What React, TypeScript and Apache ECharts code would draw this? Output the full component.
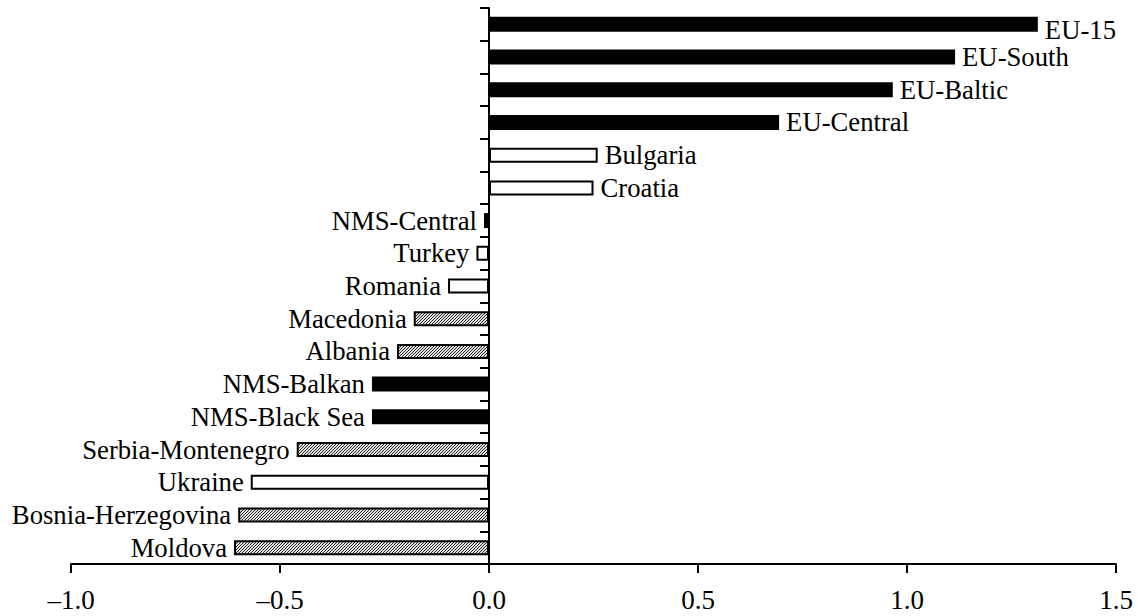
import React, { useEffect, useRef } from "react";
import * as echarts from "echarts";

const categories = [
  "EU-15",
  "EU-South",
  "EU-Baltic",
  "EU-Central",
  "Bulgaria",
  "Croatia",
  "NMS-Central",
  "Turkey",
  "Romania",
  "Macedonia",
  "Albania",
  "NMS-Balkan",
  "NMS-Black Sea",
  "Serbia-Montenegro",
  "Ukraine",
  "Bosnia-Herzegovina",
  "Moldova",
];

const values = [
  1.313, 1.115, 0.966, 0.694, 0.26, 0.25, -0.012, -0.03, -0.098, -0.18, -0.22,
  -0.28, -0.28, -0.46, -0.57, -0.6, -0.61,
];

// b = black, w = white, h = hatched
const kinds = [
  "b", "b", "b", "b", "w", "w", "b", "w", "w", "h", "h", "b", "b", "h", "w", "h", "h",
];

const xTicks = { min: -1, max: 1.5, interval: 0.5 };

const FONT = "Times New Roman, Liberation Serif, serif";

function makeHatch(): HTMLCanvasElement {
  const n = 3;
  const c = document.createElement("canvas");
  c.width = n;
  c.height = n;
  const ctx = c.getContext("2d")!;
  const img = ctx.createImageData(n, n);
  for (let y = 0; y < n; y++) {
    for (let x = 0; x < n; x++) {
      const dark = (x + y) % n === n - 1;
      const v = dark ? 40 : 225;
      const k = (y * n + x) * 4;
      img.data[k] = v;
      img.data[k + 1] = v;
      img.data[k + 2] = v;
      img.data[k + 3] = 255;
    }
  }
  ctx.putImageData(img, 0, 0);
  return c;
}

export default function App() {
  const ref = useRef<HTMLDivElement>(null);

  useEffect(() => {
    if (!ref.current) return;
    const chart = echarts.init(ref.current, undefined, { renderer: "svg" });
    const hatch = makeHatch();

    const styleFor = (k: string) => {
      if (k === "b") return { color: "#000", borderColor: "#000", borderWidth: 0 };
      if (k === "w") return { color: "#fff", borderColor: "#000", borderWidth: 2 };
      return {
        color: { image: hatch, repeat: "repeat" },
        borderColor: "#000",
        borderWidth: 2,
      };
    };

    const data = values.map((v, i) => ({
      value: v,
      itemStyle: styleFor(kinds[i]),
      label: {
        show: true,
        position: v >= 0 ? "right" : "left",
        distance: 7,
        formatter: categories[i],
        fontFamily: FONT,
        fontSize: 26.7,
        color: "#000",
        offset: i === 0 ? [0, 6] : [0, 0],
      },
    }));

    chart.setOption({
      animation: false,
      backgroundColor: "#fff",
      textStyle: { fontFamily: FONT },
      grid: { left: 71, right: 21, top: 8, bottom: 52, containLabel: false },
      xAxis: {
        type: "value",
        min: xTicks.min,
        max: xTicks.max,
        interval: xTicks.interval,
        splitLine: { show: false },
        axisLine: { show: true, lineStyle: { color: "#000", width: 2 } },
        axisTick: { show: true, length: 9, lineStyle: { color: "#000", width: 2 } },
        axisLabel: {
          margin: 22,
          fontFamily: FONT,
          fontSize: 27,
          color: "#000",
          formatter: (v: number) => v.toFixed(1).replace("-", "\u2013"),
        },
      },
      yAxis: {
        type: "category",
        inverse: true,
        data: categories,
        axisLine: { show: true, onZero: true, lineStyle: { color: "#000", width: 2 } },
        axisTick: { show: true, length: 9, inside: false, lineStyle: { color: "#000", width: 2 } },
        axisLabel: { show: false },
        splitLine: { show: false },
      },
      series: [
        {
          type: "bar",
          barWidth: 15,
          data,
        },
      ],
    });

    return () => chart.dispose();
  }, []);

  return (
    <div
      ref={ref}
      style={{ position: "fixed", left: 0, top: 0, width: 1137, height: 616 }}
    />
  );
}
